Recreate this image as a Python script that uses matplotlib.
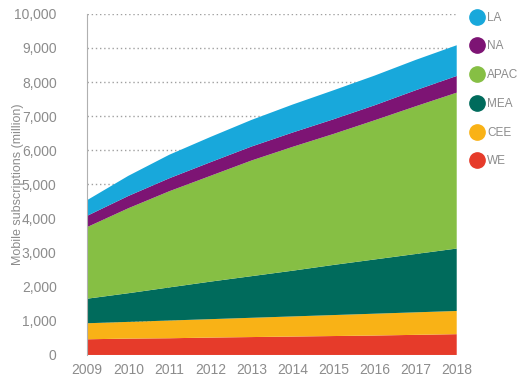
import matplotlib.pyplot as plt
from matplotlib.lines import Line2D
from matplotlib.ticker import FuncFormatter

years = [2009, 2010, 2011, 2012, 2013, 2014, 2015, 2016, 2017, 2018]

# Mobile subscriptions per region, million
we = [460, 480, 490, 510, 525, 540, 555, 570, 590, 610]
cee = [470, 490, 520, 540, 565, 590, 615, 640, 660, 680]
mea = [720, 840, 970, 1100, 1220, 1340, 1470, 1590, 1710, 1830]
apac = [2100, 2490, 2820, 3100, 3390, 3630, 3840, 4080, 4330, 4570]
na = [330, 360, 380, 400, 410, 420, 430, 440, 470, 490]
la = [460, 590, 690, 740, 780, 820, 850, 870, 890, 900]

labels = ['WE', 'CEE', 'MEA', 'APAC', 'NA', 'LA']
colors = ['#e63b2a', '#f9b216', '#006b5c', '#86bf44', '#7d1474', '#18a8db']

plt.rcParams['font.family'] = ['Liberation Sans Narrow', 'Liberation Sans', 'DejaVu Sans']
grey = '#8c8c8c'

fig = plt.figure(figsize=(5.19, 3.85), dpi=100)
ax = fig.add_axes([0.168, 0.078, 0.712, 0.886])

ax.stackplot(years, we, cee, mea, apac, na, la, colors=colors, linewidth=0, zorder=2)

ax.set_xlim(2009, 2018)
ax.set_ylim(0, 10000)
ax.set_xticks(years)
ax.set_yticks(range(0, 10001, 1000))
ax.yaxis.set_major_formatter(FuncFormatter(lambda v, p: f'{int(v):,}'))
ax.grid(axis='y', linestyle=(0, (1, 2)), color='#a0a0a0', linewidth=1, zorder=0)
ax.tick_params(length=0, labelsize=10, colors=grey)
ax.tick_params(axis='y', pad=22)
ax.tick_params(axis='x', pad=6)
for s in ['top', 'right', 'bottom']:
    ax.spines[s].set_visible(False)
ax.spines['left'].set_color('#b0b0b0')
ax.set_ylabel('Mobile subscriptions (million)', color=grey, fontsize=9)
ax.yaxis.set_label_coords(-0.172, 0.5)

handles = [Line2D([], [], marker='o', linestyle='none', markersize=11,
                  markerfacecolor=c, markeredgecolor=c) for c in colors[::-1]]
fig.legend(handles, labels[::-1], loc='upper left', bbox_to_anchor=(0.898, 0.982),
           frameon=False, fontsize=8.5, labelcolor=grey, handlelength=1.0,
           handletextpad=0.4, labelspacing=1.42, borderaxespad=0)

fig.savefig('out.png', dpi=100)
